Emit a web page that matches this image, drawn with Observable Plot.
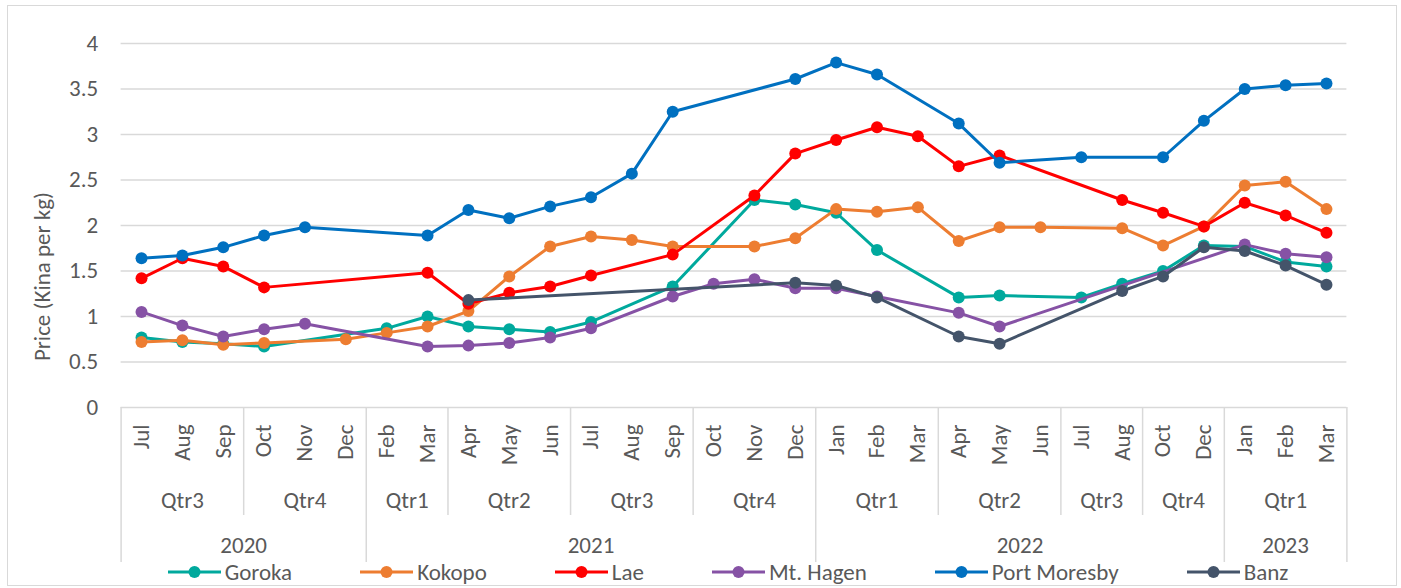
<!DOCTYPE html>
<html>
<head>
<meta charset="utf-8">
<script src="https://cdn.jsdelivr.net/npm/d3@7"></script>
<script src="https://cdn.jsdelivr.net/npm/@observablehq/plot@0.6"></script>
<style>
  html, body { margin: 0; padding: 0; background: #fff; }
  #wrap { position: relative; width: 1401px; height: 588px; overflow: hidden; font-family: Carlito, Calibri, Lato, sans-serif; color: #595959; }
  #frame { position: absolute; left: 7px; top: 5px; width: 1390px; height: 581px; border: 1.5px solid #d9d9d9; box-sizing: border-box; pointer-events: none; }
  #chart { position: absolute; left: 0; top: 0; }
  #legend { position: absolute; left: 0; top: 558px; width: 1401px; height: 28px; display: flex; justify-content: center; align-items: center; gap: 68px; padding-left: 55px; box-sizing: border-box; font-size: 23px; }
  .item { display: flex; align-items: center; }
  .item svg { margin-right: 4px; }
</style>
</head>
<body>
<div id="wrap">
  <div id="chart"></div>
  <div id="legend"></div>
  <div id="frame"></div>
</div>
<script>
// ---- data ----
const months = ["Jul","Aug","Sep","Oct","Nov","Dec","Feb","Mar","Apr","May","Jun","Jul","Aug","Sep","Oct","Nov","Dec","Jan","Feb","Mar","Apr","May","Jun","Jul","Aug","Oct","Dec","Jan","Feb","Mar"];
const quarterLabels = ["Qtr3","Qtr4","Qtr1","Qtr2","Qtr3","Qtr4","Qtr1","Qtr2","Qtr3","Qtr4","Qtr1"];
const quarterSizes = [3,3,2,3,3,3,3,3,2,2,3];
const yearLabels = ["2020","2021","2022","2023"];
const yearSizes = [6,11,10,3];
const yTicks = [0,0.5,1,1.5,2,2.5,3,3.5,4];
const yTitle = "Price (Kina per kg)";

const seriesNames = ["Goroka","Kokopo","Lae","Mt. Hagen","Port Moresby","Banz"];
const goroka      = [0.77,0.72,0.70,0.67,null,null,0.87,1.00,0.89,0.86,0.83,0.94,null,1.33,null,2.28,2.23,2.14,1.73,null,1.21,1.23,null,1.21,1.36,1.50,1.78,1.77,1.60,1.55];
const kokopo      = [0.72,0.74,0.69,0.71,null,0.75,0.82,0.89,1.06,1.44,1.77,1.88,1.84,1.77,null,1.77,1.86,2.18,2.15,2.20,1.83,1.98,1.98,null,1.97,1.78,1.99,2.44,2.48,2.18];
const lae         = [1.42,1.64,1.55,1.32,null,null,null,1.48,1.14,1.26,1.33,1.45,null,1.68,null,2.33,2.79,2.94,3.08,2.98,2.65,2.77,null,null,2.28,2.14,1.99,2.25,2.11,1.92];
const mtHagen     = [1.05,0.90,0.78,0.86,0.92,null,null,0.67,0.68,0.71,0.77,0.87,null,1.22,1.36,1.41,1.31,1.31,1.22,null,1.04,0.89,null,null,null,null,null,1.79,1.69,1.65];
const portMoresby = [1.64,1.67,1.76,1.89,1.98,null,null,1.89,2.17,2.08,2.21,2.31,2.57,3.25,null,null,3.61,3.79,3.66,null,3.12,2.69,null,2.75,null,2.75,3.15,3.50,3.54,3.56];
const banz        = [null,null,null,null,null,null,null,null,1.18,null,null,null,null,null,null,null,1.37,1.34,1.21,null,0.78,0.70,null,null,1.28,1.44,1.76,1.72,1.56,1.35];

// ---- styles ----
const palette = ["#00A99D","#ED7D31","#FF0000","#8652A5","#0070C0","#44546A"];
const grey = "#d9d9d9";

// ---- derived structures ----
const seriesValues = [goroka, kokopo, lae, mtHagen, portMoresby, banz];
const rows = seriesNames.map((name, s) =>
  seriesValues[s].map((v, i) => ({series: name, i, v})).filter(d => d.v != null));

function groups(labels, sizes) {
  let start = 0;
  return labels.map((label, k) => {
    const g = {label, first: start, last: start + sizes[k] - 1};
    start += sizes[k];
    return g;
  });
}
const qGroups = groups(quarterLabels, quarterSizes);
const yGroups = groups(yearLabels, yearSizes);
const qCenters = qGroups.map(g => (g.first + g.last) / 2);
const qMap = new Map(qGroups.map(g => [(g.first + g.last) / 2, g.label]));
const yCenters = yGroups.map(g => (g.first + g.last) / 2);
const yMap = new Map(yGroups.map(g => [(g.first + g.last) / 2, g.label]));
const yearBounds = [-0.5, ...yGroups.map(g => g.last + 0.5)];
const qBounds = qGroups.map(g => g.last + 0.5).filter(b => !yearBounds.includes(b));
const monthIdx = d3.range(months.length);

const textStyle = {fill: "#595959", fontSize: 23};

const chart = Plot.plot({
  width: 1401,
  height: 560,
  marginLeft: 120.6,
  marginRight: 54.6,
  marginTop: 43,
  marginBottom: 153,
  x: {domain: [-0.5, months.length - 0.5], label: null},
  y: {domain: [0, 4], label: null},
  color: {domain: seriesNames, range: palette},
  style: {fontFamily: "Carlito, Calibri, Lato, sans-serif", fontSize: "23px", color: "#595959", background: "transparent", overflow: "visible"},
  marks: [
    Plot.gridY(yTicks, {stroke: grey, strokeOpacity: 1, strokeWidth: 1.5}),
    Plot.axisY(yTicks, {tickSize: 0, tickPadding: 23, tickFormat: d => String(d), ...textStyle}),
    Plot.axisX(yearBounds, {anchor: "bottom", tickSize: 155, stroke: grey, strokeOpacity: 1, strokeWidth: 1.5, tickFormat: () => ""}),
    Plot.axisX(qBounds, {anchor: "bottom", tickSize: 108, stroke: grey, strokeOpacity: 1, strokeWidth: 1.5, tickFormat: () => ""}),
    Plot.axisX(monthIdx, {anchor: "bottom", tickSize: 0, tickPadding: 17, tickRotate: -90, tickFormat: i => months[i], ...textStyle}),
    Plot.axisX(qCenters, {anchor: "bottom", tickSize: 0, tickPadding: 84, tickFormat: c => qMap.get(c), ...textStyle}),
    Plot.axisX(yCenters, {anchor: "bottom", tickSize: 0, tickPadding: 129, tickFormat: c => yMap.get(c), ...textStyle}),
    Plot.text([yTitle], {text: d => d, frameAnchor: "left", textAnchor: "middle", rotate: -90, dx: -78.6, dy: 51, fontSize: 23, fill: "#595959"}),
    ...rows.flatMap(data => [
      Plot.line(data, {x: "i", y: "v", stroke: "series", strokeWidth: 3}),
      Plot.dot(data, {x: "i", y: "v", fill: "series", r: 6})
    ])
  ]
});
document.getElementById("chart").appendChild(chart);

// ---- legend ----
const legend = document.getElementById("legend");
seriesNames.forEach((name, k) => {
  const item = document.createElement("div");
  item.className = "item";
  item.innerHTML = `<svg width="53" height="14"><line x1="0" y1="7" x2="53" y2="7" stroke="${palette[k]}" stroke-width="3"/><circle cx="26.5" cy="7" r="6" fill="${palette[k]}"/></svg><span>${name}</span>`;
  legend.appendChild(item);
});
</script>
</body>
</html>
